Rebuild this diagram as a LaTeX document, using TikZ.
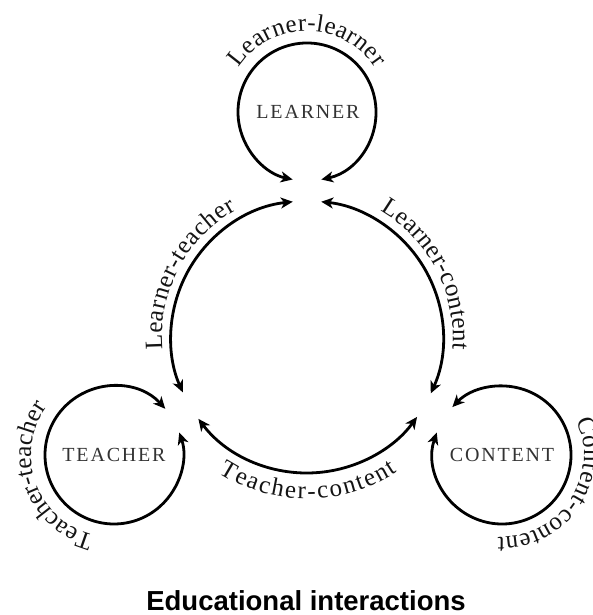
\documentclass[tikz,border=0pt]{standalone}
\usepackage{fontspec}
\setmainfont{Liberation Serif}
\newfontfamily\titlefont{Liberation Sans}
\newfontfamily\namefont[LetterSpace=9]{Liberation Serif}
\newcommand\lblsize{\fontsize{25}{25}\selectfont}
\usetikzlibrary{arrows.meta,decorations.text}
\tikzset{
  looparc/.style={line width=2.8pt, draw=black,
    {Stealth[length=12pt,width=11pt,inset=3.5pt]}-{Stealth[length=12pt,width=11pt,inset=3.5pt]}},
  namelabel/.style={font=\namefont\fontsize{20}{20}\selectfont, text=black!80},
  arclabel/.style={decorate, decoration={text along path, text align={fit to path},
    text color=black!92, text={|\lblsize|#1}}}
}
\begin{document}
\begin{tikzpicture}[x=1pt,y=1pt]
\useasboundingbox[fill=white] (0,0) rectangle (592,615);
% centres
\coordinate (mid) at (307,278);
\node[namelabel] (learner) at (308,503) {LEARNER};
\node[namelabel] (teacher) at (114,160) {TEACHER};
\node[namelabel] (content) at (502,160) {CONTENT};
\coordinate (lc) at (307,503);
\coordinate (tc) at (114,160);
\coordinate (cc) at (502,160);

% self loops
\draw[looparc] ([shift={(-78:69pt)}]lc) arc[start angle=-78,end angle=258,radius=69pt];
\draw[looparc] ([shift={(42:69pt)}]tc) arc[start angle=42,end angle=379,radius=69pt];
\draw[looparc] ([shift={(161:69pt)}]cc) arc[start angle=161,end angle=496,radius=69pt];

% big circle arcs
\draw[looparc] ([shift={(96:136pt)}]mid) arc[start angle=96,end angle=204,radius=136pt];
\draw[looparc] ([shift={(217:136pt)}]mid) arc[start angle=217,end angle=324,radius=136pt];
\draw[looparc] ([shift={(-24.5:136pt)}]mid) arc[start angle=-24.5,end angle=84,radius=136pt];

% labels along arcs
\path[arclabel=Learner-learner] ([shift={(147:81pt)}]lc) arc[start angle=147,end angle=33,radius=81pt];
\path[arclabel=Teacher-teacher] ([shift={(256:83pt)}]tc) arc[start angle=256,end angle=144,radius=83pt];
\path[arclabel=Content-content] ([shift={(25:82pt)}]cc) arc[start angle=25,end angle=-93,radius=82pt];
\path[arclabel=Learner-teacher] ([shift={(185:145pt)}]mid) arc[start angle=185,end angle=119,radius=145pt];
\path[arclabel=Learner-content] ([shift={(60:146pt)}]mid) arc[start angle=60,end angle=-5,radius=146pt];
\path[arclabel=Teacher-content] ([shift={(237:162pt)}]mid) arc[start angle=237,end angle=304,radius=162pt];

% title
\node[font=\titlefont\bfseries\fontsize{27.5}{27.5}\selectfont, anchor=base] (title) at (306,5) {Educational interactions};
\end{tikzpicture}
\end{document}
